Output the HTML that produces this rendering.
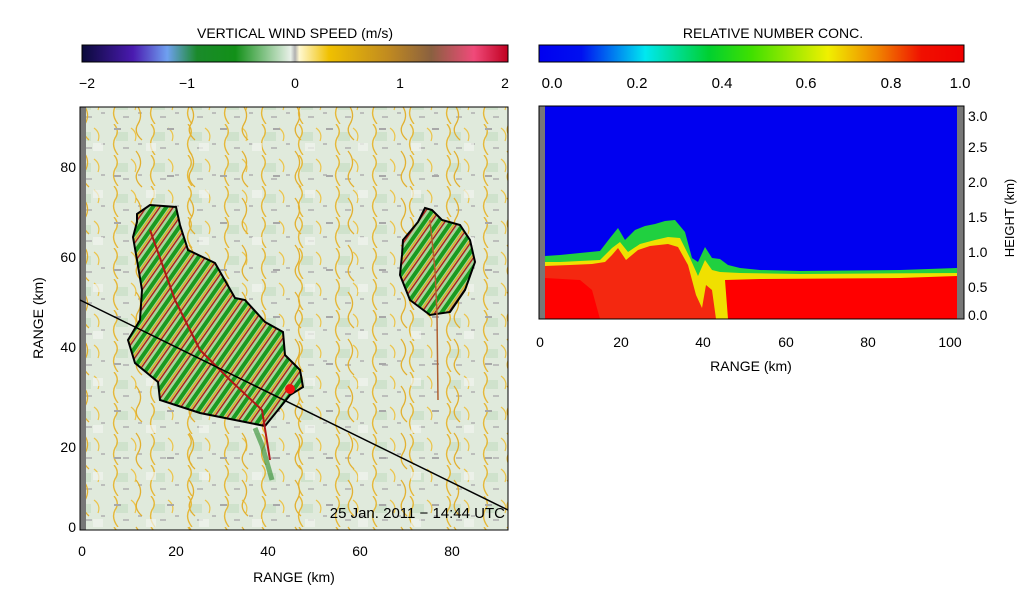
<!DOCTYPE html>
<html><head><meta charset="utf-8"><style>
body{margin:0;background:#fff;}
svg{display:block;font-family:"Liberation Sans",sans-serif;}
</style></head><body>
<svg width="1024" height="616" viewBox="0 0 1024 616" xmlns="http://www.w3.org/2000/svg">
<defs>
<linearGradient id="cb1" x1="0" x2="1">
<stop offset="0" stop-color="#0a0a3a"/><stop offset="0.12" stop-color="#4a1ab0"/><stop offset="0.2" stop-color="#6fa0f0"/><stop offset="0.27" stop-color="#1a8a2a"/><stop offset="0.36" stop-color="#129018"/><stop offset="0.49" stop-color="#e8f0e8"/><stop offset="0.5" stop-color="#b0b0b0"/><stop offset="0.51" stop-color="#fff8d0"/><stop offset="0.58" stop-color="#f0c000"/><stop offset="0.72" stop-color="#c08a20"/><stop offset="0.82" stop-color="#8a6040"/><stop offset="0.92" stop-color="#f04a7a"/><stop offset="1" stop-color="#c00020"/>
</linearGradient>
<linearGradient id="cb2" x1="0" x2="1">
<stop offset="0" stop-color="#0000f0"/><stop offset="0.1" stop-color="#0010f0"/><stop offset="0.25" stop-color="#00e8f0"/><stop offset="0.4" stop-color="#00d030"/><stop offset="0.5" stop-color="#40e000"/><stop offset="0.68" stop-color="#f0f000"/><stop offset="0.8" stop-color="#f08000"/><stop offset="0.9" stop-color="#f01000"/><stop offset="1" stop-color="#f00000"/>
</linearGradient>
<pattern id="bg" width="37" height="31" patternUnits="userSpaceOnUse">
<rect width="37" height="31" fill="#e0eadc"/>
<rect x="5" y="8" width="12" height="9" fill="#cfe2cc"/>
<path d="M3 0 q6 7 1 14 q-4 8 3 17" stroke="#e6b838" stroke-width="1.4" fill="none"/>
<path d="M20 4 q7 5 4 13" stroke="#ecc44a" stroke-width="1.2" fill="none"/>
<path d="M12 24 h6 M27 20 h4" stroke="#b0b0b0" stroke-width="1.5"/>
</pattern>
<pattern id="bg2" width="53" height="47" patternUnits="userSpaceOnUse">
<path d="M30 10 q8 10 2 20 q-5 8 4 16" stroke="#e2b030" stroke-width="1.3" fill="none"/>
<path d="M8 35 h7" stroke="#a8a8a8" stroke-width="2"/>
<rect x="40" y="2" width="10" height="8" fill="#f2f4ee" opacity="0.7"/>
</pattern>
<pattern id="storm" width="11" height="11" patternUnits="userSpaceOnUse" patternTransform="rotate(35)">
<rect width="11" height="11" fill="#a8d49c"/>
<rect x="0" width="4" height="11" fill="#1a9a20"/>
<rect x="5" width="1.4" height="11" fill="#e0b020"/>
<rect x="7" width="1.4" height="11" fill="#b01818"/>
</pattern>
</defs>

<text x="295" y="38" font-size="14" text-anchor="middle">VERTICAL WIND SPEED (m/s)</text>
<rect x="82" y="45" width="426" height="17" fill="url(#cb1)" stroke="#000"/>
<g font-size="14" text-anchor="middle">
<text x="87" y="88">−2</text><text x="187" y="88">−1</text><text x="295" y="88">0</text><text x="400" y="88">1</text><text x="505" y="88">2</text>
</g>

<text x="773" y="38" font-size="14" text-anchor="middle">RELATIVE NUMBER CONC.</text>
<rect x="539" y="45" width="425" height="17" fill="url(#cb2)" stroke="#000"/>
<g font-size="15" text-anchor="middle">
<text x="552" y="88">0.0</text><text x="637" y="88">0.2</text><text x="722" y="88">0.4</text><text x="806" y="88">0.6</text><text x="891" y="88">0.8</text><text x="960" y="88">1.0</text>
</g>

<rect x="80" y="107" width="428" height="423" fill="url(#bg)"/>
<rect x="80" y="107" width="428" height="423" fill="url(#bg2)"/>
<rect x="80" y="107" width="6" height="423" fill="#777"/>
<path d="M137 214 L150 205 L176 207 L180 225 L188 250 L215 263 L235 298 L245 300 L265 322 L283 332 L285 355 L300 370 L303 387 L290 395 L278 410 L265 426 L240 421 L200 413 L160 400 L158 382 L135 363 L128 340 L140 320 L142 290 L137 260 L133 237 L137 222 Z" fill="url(#storm)" stroke="#000" stroke-width="2"/>
<path d="M403 240 L418 222 L425 208 L432 210 L442 220 L460 225 L470 240 L475 262 L465 290 L450 312 L430 315 L410 300 L400 275 L402 255 Z" fill="url(#storm)" stroke="#000" stroke-width="2"/>
<path d="M150 230 L175 300 L200 350 L230 380 L262 410 L270 460" stroke="#b01818" stroke-width="2" fill="none"/>
<path d="M430 220 L435 270 L437 315 L438 400" stroke="#b06030" stroke-width="1.5" fill="none"/>
<path d="M255 428 L262 445 L272 480" stroke="#2a8a2a" stroke-width="5" fill="none" opacity="0.6"/>
<line x1="80" y1="300" x2="508" y2="510" stroke="#000" stroke-width="1.5"/>
<circle cx="290" cy="389" r="5" fill="#f01010"/>
<rect x="80" y="107" width="428" height="423" fill="none" stroke="#000"/>
<text x="505" y="518" font-size="15" text-anchor="end">25 Jan. 2011 − 14:44 UTC</text>
<g font-size="14" text-anchor="middle">
<text x="82" y="556">0</text><text x="176" y="556">20</text><text x="268" y="556">40</text><text x="360" y="556">60</text><text x="452" y="556">80</text>
</g>
<text x="294" y="582" font-size="14" text-anchor="middle">RANGE (km)</text>
<g font-size="14" text-anchor="end">
<text x="76" y="532">0</text><text x="76" y="452">20</text><text x="76" y="352">40</text><text x="76" y="262">60</text><text x="76" y="172">80</text>
</g>
<text transform="translate(43,318) rotate(-90)" font-size="14" text-anchor="middle">RANGE (km)</text>

<rect x="539" y="106" width="425" height="213" fill="#0000f0"/>
<path d="M545 256 L560 255 L580 253 L600 251 L610 238 L618 228 L625 240 L635 230 L645 226 L655 224 L665 221 L675 220 L685 232 L692 258 L698 262 L705 247 L712 258 L720 259 L728 265 L740 268 L760 270 L800 271 L900 270 L957 268 L957 319 L545 319 Z" fill="#20d040"/>
<path d="M545 262 L560 262 L580 261 L600 260 L612 248 L620 242 L628 252 L640 244 L655 240 L668 237 L680 238 L690 258 L698 276 L705 260 L712 270 L720 272 L740 273 L800 274 L957 273 L957 319 L545 319 Z" fill="#f0e000"/>
<path d="M545 266 L570 265 L592 264 L605 262 L612 255 L618 248 L626 260 L638 250 L650 246 L668 244 L678 247 L688 265 L696 295 L702 308 L706 285 L712 290 L716 319 L545 319 Z" fill="#f42810"/>
<path d="M545 278 L580 280 L592 290 L600 319 L545 319 Z" fill="#ff0000"/>
<path d="M725 280 L760 279 L900 278 L957 276 L957 319 L728 319 Z" fill="#ff0000"/>
<rect x="539" y="106" width="6" height="213" fill="#777"/>
<rect x="957" y="106" width="7" height="213" fill="#777"/>
<rect x="539" y="106" width="425" height="213" fill="none" stroke="#000"/>
<g font-size="14" text-anchor="middle">
<text x="540" y="347">0</text><text x="621" y="347">20</text><text x="703" y="347">40</text><text x="786" y="347">60</text><text x="868" y="347">80</text><text x="950" y="347">100</text>
</g>
<text x="751" y="371" font-size="14" text-anchor="middle">RANGE (km)</text>
<g font-size="14">
<text x="968" y="121">3.0</text><text x="968" y="152">2.5</text><text x="968" y="187">2.0</text><text x="968" y="222">1.5</text><text x="968" y="257">1.0</text><text x="968" y="292">0.5</text><text x="968" y="320">0.0</text>
</g>
<text transform="translate(1014,218) rotate(-90)" font-size="13" text-anchor="middle">HEIGHT (km)</text>
</svg>
</body></html>
